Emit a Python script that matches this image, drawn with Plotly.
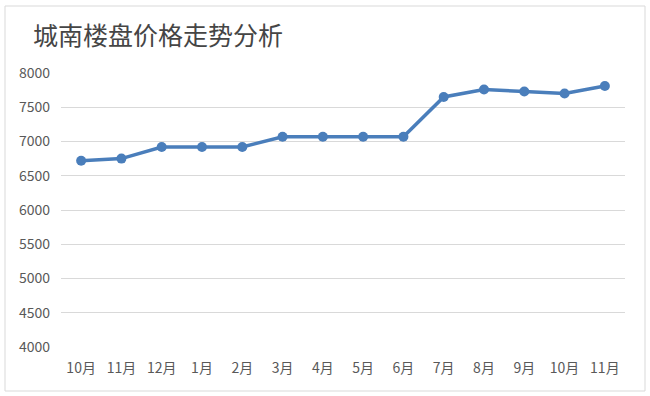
import plotly.graph_objects as go

title_text = "城南楼盘价格走势分析"
months = ["10月", "11月", "12月", "1月", "2月", "3月", "4月", "5月", "6月", "7月", "8月", "9月", "10月", "11月"]
prices = [6720, 6750, 6920, 6920, 6920, 7070, 7070, 7070, 7070, 7650, 7760, 7730, 7700, 7810]
y_ticks = [4000, 4500, 5000, 5500, 6000, 6500, 7000, 7500, 8000]

W, H = 650, 396
ML, MR, MT, MB = 61, 25, 73, 49
pw, ph = W - ML - MR, H - MT - MB

x_idx = list(range(len(months)))

fig = go.Figure()
fig.add_trace(go.Scatter(
    x=x_idx, y=prices, mode="lines+markers",
    line=dict(color="#4a7ebb", width=3.5),
    marker=dict(color="#4a7ebb", size=10),
    hoverinfo="x+y",
))

font_cjk = "Noto Sans CJK SC, Microsoft YaHei, sans-serif"

fig.update_layout(
    width=W, height=H,
    margin=dict(l=ML, r=MR, t=MT, b=MB),
    paper_bgcolor="white", plot_bgcolor="white",
    showlegend=False,
    font=dict(family=font_cjk, color="#595959", size=14),
    title=dict(text=title_text, x=33 / W, xanchor="left", y=1 - 36 / H, yanchor="middle",
               font=dict(family=font_cjk, size=25, color="#454545")),
    xaxis=dict(
        tickmode="array", tickvals=x_idx, ticktext=months,
        range=[-0.5, len(months) - 0.5],
        showgrid=False, zeroline=False, showline=False, ticks="",
        tickfont=dict(size=14, color="#595959"),
        ticklabelstandoff=11,
    ),
    yaxis=dict(
        range=[4000, 8000], tickvals=y_ticks,
        showgrid=True, gridcolor="#d9d9d9", gridwidth=1,
        zeroline=False, showline=False, ticks="",
        tickfont=dict(size=14, color="#595959"),
        ticklabelstandoff=10,
    ),
    shapes=[dict(
        type="rect", xref="paper", yref="paper",
        x0=(5 - ML) / pw, x1=(645 - ML) / pw,
        y0=(H - MB - 391) / ph, y1=(H - MB - 6) / ph,
        line=dict(color="#d9d9d9", width=1), fillcolor="rgba(0,0,0,0)", layer="below",
    )],
)

fig.write_html(
    "out.html",
    config={"displayModeBar": False},
    post_script="document.body.style.margin='0';document.body.style.padding='0';",
)
